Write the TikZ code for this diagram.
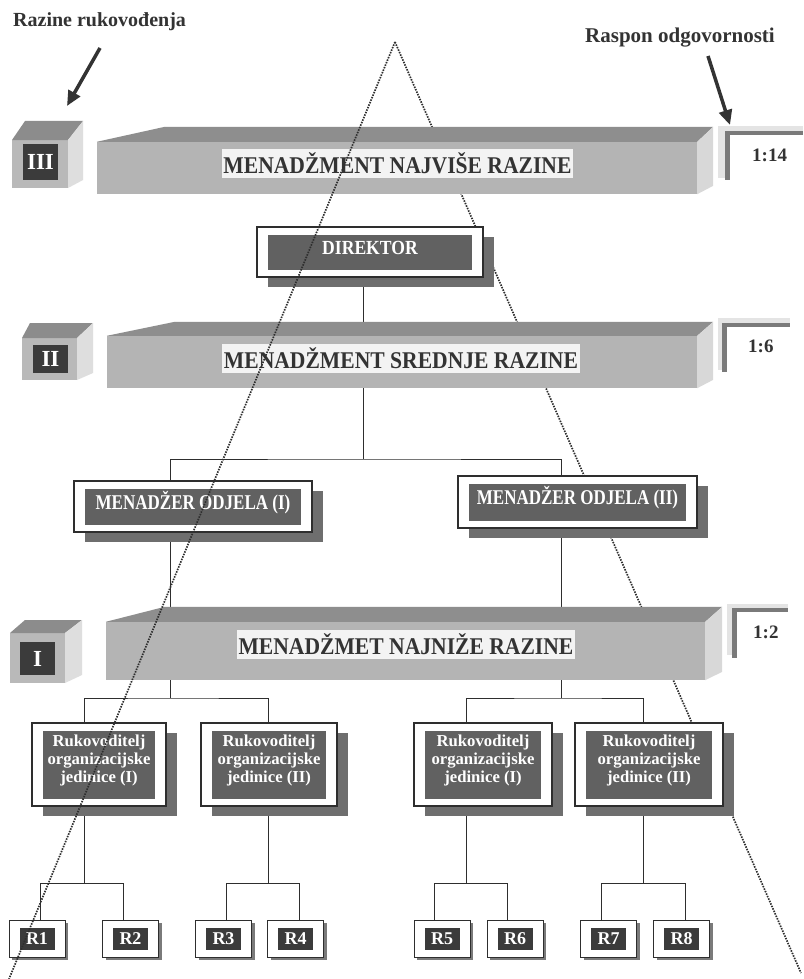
\documentclass[tikz,border=0pt]{standalone}
\usepackage{fontspec}
\setmainfont{Liberation Serif}
\usepackage{graphicx}
\usetikzlibrary{arrows.meta,calc}
\pgfdeclarelayer{paper}
\pgfdeclarelayer{bg}
\pgfsetlayers{paper,bg,main}
\definecolor{barF}{HTML}{B4B4B4}
\definecolor{barT}{HTML}{8E8E8E}
\definecolor{barR}{HTML}{D8D8D8}
\definecolor{labbg}{HTML}{F3F3F3}
\definecolor{cubeF}{HTML}{B9B9B9}
\definecolor{cubeT}{HTML}{8C8C8C}
\definecolor{cubeR}{HTML}{DEDEDE}
\definecolor{numbox}{HTML}{3B3B3B}
\definecolor{innerc}{HTML}{616161}
\definecolor{shadowc}{HTML}{6E6E6E}
\definecolor{txt}{HTML}{333333}
\definecolor{brk}{HTML}{7A7A7A}
\definecolor{brklight}{HTML}{E4E4E4}
\definecolor{linec}{HTML}{2E2E2E}
\tikzset{
  conn/.style={draw=linec, line width=1pt},
  tri/.style={draw=linec, line width=1.7pt, dash pattern=on 1.5pt off 1.2pt},
  bigarrow/.style={draw=txt, line width=3.5pt, -{Triangle[length=15pt,width=13pt]}},
  barfront/.style={fill=barF, draw=none, inner sep=0pt},
  barlabel/.style={fill=labbg, draw=none, inner sep=0pt, minimum height=29pt, text=txt,
    font=\bfseries\fontsize{24}{28}\selectfont},
  numnode/.style={fill=numbox, draw=none, inner sep=0pt, minimum width=35pt, text=white,
    font=\bfseries\fontsize{23}{26}\selectfont},
  orgouter/.style={fill=white, draw=linec, line width=1.3pt, inner sep=0pt},
  orginner/.style={fill=innerc, draw=none, inner sep=0pt},
  orgshadow/.style={fill=shadowc, draw=none, inner sep=0pt},
  orgtext/.style={text=white, align=center, inner sep=0pt},
  rukfont/.style={font=\bfseries\fontsize{16.7}{18}\selectfont},
  mfont/.style={font=\bfseries\fontsize{21}{24}\selectfont},
  router/.style={fill=white, draw=linec, line width=1pt, inner sep=0pt, minimum width=56pt, minimum height=37pt},
  rshadow/.style={fill=brk, draw=none, inner sep=0pt, minimum width=56pt, minimum height=37pt},
  rinner/.style={fill=numbox, draw=none, inner sep=0pt, minimum width=35pt, minimum height=22pt,
    text=white, font=\bfseries\fontsize{18}{20}\selectfont},
  headtext/.style={text=txt, inner sep=0pt, anchor=base west, font=\bfseries},
  ratio/.style={text=txt, inner sep=0pt, anchor=base west, font=\bfseries\fontsize{19}{22}\selectfont}
}
\newcommand\orgbox[7]{%
  \node[orgshadow, minimum width=#4, minimum height=#5] (#1-sh) at (#2+11,#3+10) {};
  \node[orgouter, minimum width=#4, minimum height=#5] (#1) at (#2,#3) {};
  \node[orginner, minimum width=#4-22, minimum height=#5-15] (#1-in) at (#2,#3) {};
  \node[orgtext, #6] (#1-t) at (#2,#3-4) {#7};
}
\newcommand\rbox[3]{%
  \node[rshadow] (#1-sh) at (#2+3,941.5) {};
  \node[router] (#1) at (#2,938.5) {};
  \node[rinner] (#1-in) at (#2,939) {#3};
}
\newcommand\mtxt[1]{\scalebox{0.81}[1]{#1}}
\begin{document}
\begin{tikzpicture}[x=1pt,y=-1pt]
\useasboundingbox (0,0) rectangle (803,979);
\begin{pgfonlayer}{paper}
\fill[white] (0,0) rectangle (803,979);
\end{pgfonlayer}

\coordinate (apex) at (395,42);
\coordinate (tl) at (9,979);
\coordinate (tr) at (801,973);

% ---------- level bars ----------
\node[barfront, minimum width=600pt, minimum height=52pt] (bar3) at (397,168) {};
\fill[barT] (bar3.north west) -- ++(68,-15) -- ($(bar3.north east)+(16,-15)$) -- (bar3.north east) -- cycle;
\fill[barR] (bar3.north east) -- ++(16,-15) -- ++(0,59) -- (bar3.south east) -- cycle;
\node[barlabel, minimum width=351pt] (lab3) at (397.5,163.5) {\scalebox{0.9}[1]{MENADŽMENT NAJVIŠE RAZINE}};

\node[barfront, minimum width=590pt, minimum height=52pt] (bar2) at (402,362) {};
\fill[barT] (bar2.north west) -- ++(68,-14) -- ($(bar2.north east)+(16,-14)$) -- (bar2.north east) -- cycle;
\fill[barR] (bar2.north east) -- ++(16,-14) -- ++(0,58) -- (bar2.south east) -- cycle;
\node[barlabel, minimum width=358pt] (lab2) at (401,358.5) {\scalebox{0.9}[1]{MENADŽMENT SREDNJE RAZINE}};

\node[barfront, minimum width=599pt, minimum height=58pt] (bar1) at (405.5,651) {};
\fill[barT] (bar1.north west) -- ++(59,-15) -- ($(bar1.north east)+(17,-15)$) -- (bar1.north east) -- cycle;
\fill[barR] (bar1.north east) -- ++(17,-15) -- ++(0,65) -- (bar1.south east) -- cycle;
\node[barlabel, minimum width=338pt] (lab1) at (406,644.5) {\scalebox{0.9}[1]{MENADŽMET NAJNIŽE RAZINE}};

% ---------- cubes ----------
\fill[cubeF] (12,140) rectangle (68,188);
\fill[cubeT] (12,140) -- (25,121) -- (83,121) -- (68,140) -- cycle;
\fill[cubeR] (68,140) -- (83,121) -- (83,180) -- (68,188) -- cycle;
\node[numnode, minimum height=36pt] (c3) at (40.5,162) {III};

\fill[cubeF] (22,338) rectangle (77,380);
\fill[cubeT] (22,338) -- (30,323) -- (93,323) -- (77,338) -- cycle;
\fill[cubeR] (77,338) -- (93,323) -- (93,373) -- (77,380) -- cycle;
\node[numnode, minimum height=28pt] (c2) at (50.5,359) {II};

\fill[cubeF] (10,633) rectangle (65,683);
\fill[cubeT] (10,633) -- (25,620) -- (82,620) -- (65,633) -- cycle;
\fill[cubeR] (65,633) -- (82,620) -- (82,675) -- (65,683) -- cycle;
\node[numnode, minimum height=33pt] (c1) at (37.5,658.5) {I};

% ---------- span brackets ----------
\fill[brklight] (718,126) rectangle (803,131);
\fill[brklight] (718,126) rectangle (725,178);
\fill[brk] (725,131) rectangle (803,135);
\fill[brk] (725,131) rectangle (730,180);
\node[ratio] (r3) at (752,161) {1:14};

\fill[brklight] (718,318) rectangle (790,323);
\fill[brklight] (718,318) rectangle (722,370);
\fill[brk] (722,323) rectangle (790,327);
\fill[brk] (722,323) rectangle (727,372);
\node[ratio] (r2) at (748,352) {1:6};

\fill[brklight] (727,604) rectangle (788,608);
\fill[brklight] (727,604) rectangle (732,655);
\fill[brk] (732,608) rectangle (788,612);
\fill[brk] (732,608) rectangle (737,658);
\node[ratio] (r1) at (753,638) {1:2};

% ---------- boxes ----------
\orgbox{dir}{370}{252}{226}{50}{font=\bfseries\fontsize{20}{22}\selectfont}{\scalebox{0.88}[1]{DIREKTOR}}
\orgbox{m1}{193}{506.5}{238}{51}{mfont}{\mtxt{MENADŽER ODJELA (I)}}
\orgbox{m2}{577.5}{502}{239}{52}{mfont}{\mtxt{MENADŽER ODJELA (II)}}
\orgbox{ka}{99}{764.5}{134}{83}{rukfont}{Rukovoditelj\\organizacijske\\jedinice (I)}
\orgbox{kb}{269}{764.5}{136}{83}{rukfont}{Rukovoditelj\\organizacijske\\jedinice (II)}
\orgbox{kc}{483}{764.5}{138}{83}{rukfont}{Rukovoditelj\\organizacijske\\jedinice (I)}
\orgbox{kd}{649}{764.5}{148}{83}{rukfont}{Rukovoditelj\\organizacijske\\jedinice (II)}

\rbox{R1}{37}{R1}
\rbox{R2}{130.5}{R2}
\rbox{R3}{223.5}{R3}
\rbox{R4}{295.5}{R4}
\rbox{R5}{442}{R5}
\rbox{R6}{515}{R6}
\rbox{R7}{608.5}{R7}
\rbox{R8}{681.5}{R8}

% ---------- connectors (behind) ----------
\begin{pgfonlayer}{bg}
\draw[tri] (apex) -- (tr);
\coordinate (j1) at (363,459);
\draw[conn] (dir.center -| j1) -- (j1);
\draw[conn] (bar2.center -| j1) -- (j1);
\draw[conn] (bar1.center -| 170,0) |- (j1) -| (bar1.center -| 561,0);
\coordinate (j2) at (170,698);
\coordinate (j3) at (561,698);
\draw[conn] (bar1.center -| j2) -- (j2);
\draw[conn] (bar1.center -| j3) -- (j3);
\draw[conn] (ka.center -| 84,0) |- (j2) -| (kb.center -| 268,0);
\draw[conn] (kc.center -| 466,0) |- (j3) -| (kd.center -| 643,0);
\coordinate (j4) at (84,883);
\coordinate (j5) at (268,883);
\coordinate (j6) at (466,883);
\coordinate (j7) at (643,883);
\draw[conn] (ka.center -| j4) -- (j4);
\draw[conn] (kb.center -| j5) -- (j5);
\draw[conn] (kc.center -| j6) -- (j6);
\draw[conn] (kd.center -| j7) -- (j7);
\draw[conn] (R1.center -| 40,0) |- (j4) -| (R2.center -| 123,0);
\draw[conn] (R3.center -| 226,0) |- (j5) -| (R4.center -| 299,0);
\draw[conn] (R5.center -| 434,0) |- (j6) -| (R6.center -| 507,0);
\draw[conn] (R7.center -| 601,0) |- (j7) -| (R8.center -| 685,0);
\end{pgfonlayer}

% ---------- left dotted line (in front) ----------
\draw[tri] (apex) -- (tl);

% ---------- headings and arrows ----------
\node[headtext, font=\bfseries\fontsize{20}{24}\selectfont] (h1) at (13,27) {Razine rukovođenja};
\node[headtext, font=\bfseries\fontsize{21}{24}\selectfont] (h2) at (585,43) {Raspon odgovornosti};
\coordinate (a1s) at (100,48);
\coordinate (a1e) at (67,106);
\coordinate (a2s) at (708,56);
\coordinate (a2e) at (730,125);
\draw[bigarrow] (a1s) -- (a1e);
\draw[bigarrow] (a2s) -- (a2e);
\end{tikzpicture}
\end{document}
